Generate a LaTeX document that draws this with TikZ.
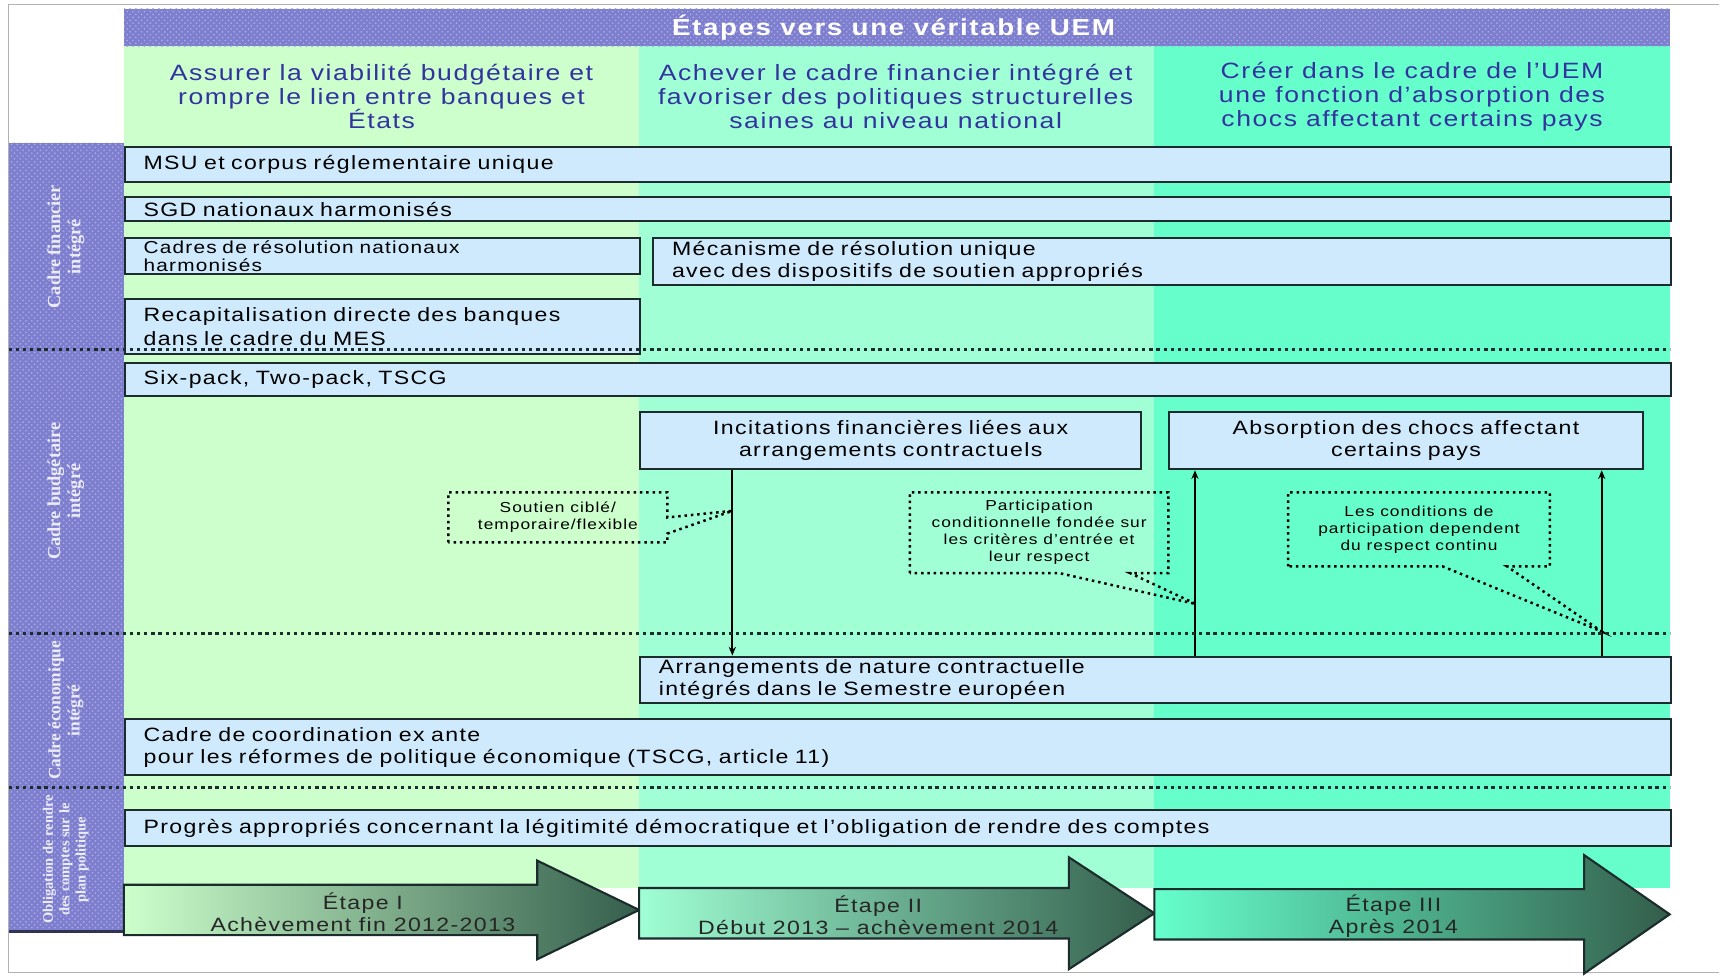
\documentclass[tikz,border=0pt]{standalone}
\usepackage{fontspec}
\setmainfont{Liberation Sans}[FakeStretch=1.2, LetterSpace=7]
\newfontfamily\sidefont{Liberation Serif}
\usetikzlibrary{calc, arrows.meta, patterns}
\definecolor{colone}{RGB}{204, 255, 204}
\definecolor{coltwo}{RGB}{160, 255, 212}
\definecolor{colthree}{RGB}{102, 255, 204}
\definecolor{bandfill}{RGB}{126, 126, 206}
\definecolor{banddots}{RGB}{168, 168, 228}
\definecolor{barfill}{RGB}{206, 234, 252}
\definecolor{barline}{RGB}{28, 44, 44}
\definecolor{headblue}{RGB}{51, 51, 160}
\definecolor{stagedark}{RGB}{52, 94, 76}
\tikzset{
    band/.style={fill=bandfill, postaction={pattern=crosshatch dots,
        pattern color=banddots}},
    bar/.style 2 args={draw=barline, line width=1.1pt, fill=barfill,
        anchor=north west, inner xsep=3.4mm, inner ysep=0pt, align=left,
        text width=#1, minimum height=#2, font=\fontsize{10}{11.5}\selectfont},
    midbar/.style 2 args={bar={#1}{#2}, align=center},
    callout/.style={anchor=north west, inner sep=0pt, align=center,
        font=\fontsize{7.5}{8.8}\selectfont},
    tail/.style={dotted, line width=1.3pt},
    sepline/.style={dotted, line width=1.7pt, barline},
    flow/.style={-{Stealth[length=1.6mm, width=1.3mm]}, line width=0.9pt},
    headtext/.style={align=center, text=headblue,
        font=\fontsize{11.5}{12.4}\selectfont},
    sidetext/.style 2 args={rotate=90, align=center, text=white!85!bandfill,
        font=\sidefont\bfseries\fontsize{#1}{#2}\selectfont},
    stagetext/.style={align=center, text=black!85,
        font=\fontsize{10}{11.5}\selectfont},
}

\begin{document}
\begin{tikzpicture}[x=0.2mm, y=-0.2mm]
    \useasboundingbox (0,0) rectangle (1568,891);
    \draw[black!30, line width=0.6pt] (1568,4) -- (8,4) -- (8,887) -- (1568,887);
    % colonnes et bandeaux
    \foreach \x/\c in {113/colone, 583/coltwo, 1053/colthree}
        \fill[\c] (\x,42) rectangle ++(470,768);
    \fill[band] (113,8) rectangle (1523,42);
    \fill[band] (8,130) rectangle (113,850);
    \draw[bandfill!40!black, line width=1.5pt] (8,850) -- (113,850);
    \node[text=white, font=\bfseries\fontsize{12}{14}\selectfont] (title)
        at (815,25) {Étapes vers une véritable UEM};
    \node[headtext] (goalA) at (348,88)
        {Assurer la viabilité budgétaire et\\rompre le lien entre banques et\\États};
    \node[headtext] (goalB) at (817,88)
        {Achever le cadre financier intégré et\\favoriser des politiques structurelles\\saines au niveau national};
    \node[headtext] (goalC) at (1288,88)
        {Créer dans le cadre de l'UEM\\une fonction d'absorption des\\chocs affectant certains pays};
    \foreach \y/\s/\k/\t in {225/9.5/10.5/{Cadre financier\\intégré},
        448/9.5/10.5/{Cadre budgétaire\\intégré}, 648/9/10/{Cadre économique\\intégré},
        784/7.5/8.5/{Obligation de rendre\\des comptes sur le\\plan politique}}
        \node[sidetext={\s}{\k}] (side\y) at (60,\y) {\t};

    % blocs
    \node[bar={275.2mm}{6.4mm}] (msu) at (113,133) {MSU et corpus réglementaire unique};
    \node[bar={275.2mm}{4.4mm}] (sgd) at (113,179) {SGD nationaux harmonisés};
    \node[bar={87.2mm}{6.6mm}, font=\fontsize{9}{9.6}\selectfont] (cadres) at (113,216)
        {Cadres de résolution nationaux\\harmonisés};
    \node[bar={178.8mm}{8.6mm}] (mecan) at (595,216)
        {Mécanisme de résolution unique\\avec des dispositifs de soutien appropriés};
    \node[bar={87.2mm}{10mm}] (recap) at (113,272)
        {Recapitalisation directe des banques\\[1pt]dans le cadre du MES};
    \node[bar={275.2mm}{6mm}] (sixpack) at (113,330) {Six-pack, Two-pack, TSCG};
    \node[midbar={84.6mm}{10.4mm}] (incit) at (583,375)
        {Incitations financières liées aux\\arrangements contractuels};
    \node[midbar={79.8mm}{10.4mm}] (absorb) at (1065,375)
        {Absorption des chocs affectant\\certains pays};
    \node[bar={181.2mm}{8.4mm}] (arrang) at (583,598)
        {Arrangements de nature contractuelle\\intégrés dans le Semestre européen};
    \node[bar={275.2mm}{10.2mm}] (coord) at (113,655)
        {Cadre de coordination ex ante\\pour les réformes de politique économique (TSCG, article 11)};
    \node[bar={275.2mm}{6.6mm}] (progres) at (113,738)
        {Progrès appropriés concernant la légitimité démocratique et l'obligation de rendre des comptes};

    % bulles
    \node[callout, minimum width=39.8mm, minimum height=9mm] (soutien) at (409,449)
        {Soutien ciblé/\\temporaire/flexible};
    \node[callout, minimum width=47mm, minimum height=14.6mm] (partic) at (830,449)
        {Participation\\conditionnelle fondée sur\\les critères d'entrée et\\leur respect};
    \node[callout, minimum width=47.6mm, minimum height=13.4mm] (condit) at (1175,449)
        {Les conditions de\\participation dependent\\du respect continu};
    \coordinate (tipA) at (668,466);
    \coordinate (tipB) at (1091,551);
    \coordinate (tipC) at (1461,576);
    \draw[tail] (soutien.south west) -- (soutien.north west) -- (soutien.north east)
        -- ($(soutien.north east)+(0,23)$) -- (tipA)
        -- ($(soutien.south east)+(0,-8)$) -- (soutien.south east) -- cycle;
    \draw[tail] (partic.south west) -- (partic.north west) -- (partic.north east)
        -- (partic.south east) -- ($(partic.south east)+(-35,0)$) -- (tipB)
        -- ($(partic.south west)+(136,0)$) -- cycle;
    \draw[tail] (condit.south west) -- (condit.north west) -- (condit.north east)
        -- (condit.south east) -- ($(condit.south east)+(-39,0)$) -- (tipC)
        -- ($(condit.south west)+(141,0)$) -- cycle;

    % liens
    \coordinate (xa) at (668,0);
    \coordinate (xb) at (1090,0);
    \coordinate (xc) at (1461,0);
    \draw[flow] (incit.south -| xa) -- (arrang.north -| xa);
    \draw[flow] (arrang.north -| xb) -- (absorb.south -| xb);
    \draw[flow] (arrang.north -| xc) -- (absorb.south -| xc);

    \foreach \y in {319, 578, 718}
        \draw[sepline] (8,\y) -- (1523,\y);

    % etapes
    \foreach \x/\y/\h/\b/\c/\n/\t in {
        113/830/45/377/colone/1/{Étape I\\Achèvement fin 2012-2013},
        583/833/51/392/coltwo/2/{Étape II\\Début 2013 – achèvement 2014},
        1053/834/54/392/colthree/3/{Étape III\\Après 2014}} {
        \draw[draw=barline, line width=1.1pt, left color=\c, right color=stagedark]
            (\x,\y-23) -- (\x+\b,\y-23) -- (\x+\b,\y-\h) -- (\x+470,\y)
            -- (\x+\b,\y+\h) -- (\x+\b,\y+23) -- (\x,\y+23) -- cycle;
        \node[stagetext] (stage\n) at (\x+218,\y+2) {\t};
    }
\end{tikzpicture}
\end{document}
